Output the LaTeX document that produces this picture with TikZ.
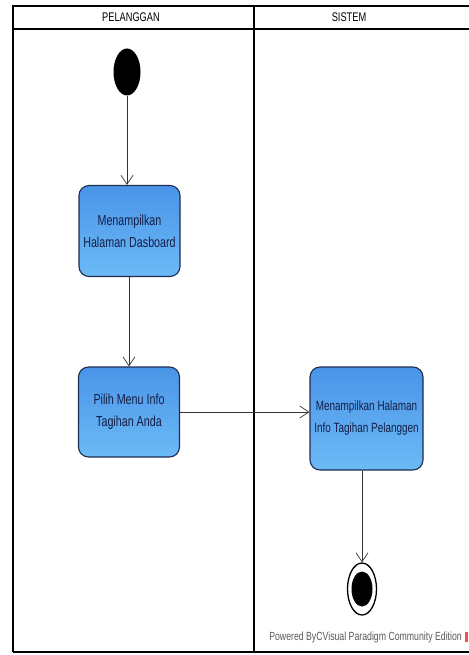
\documentclass[tikz,border=0pt]{standalone}
\usepackage{fontspec}
\setmainfont{Liberation Sans}
\newfontfamily\narrowfont[FakeStretch=0.74]{Liberation Sans}
\usetikzlibrary{arrows.meta,shapes.geometric}
\definecolor{actTop}{RGB}{74,148,232}
\definecolor{actBot}{RGB}{108,186,246}
\definecolor{actLine}{RGB}{30,45,80}
\definecolor{actText}{RGB}{20,30,70}
\tikzset{
  lane/.style={draw=black, line width=1.4pt},
  action/.style={draw=actLine, line width=1.1pt, rounded corners=10pt,
    top color=actTop, bottom color=actBot, minimum width=101pt,
    align=center, font=\narrowfont\fontsize{14.5}{22}\selectfont, text=actText,
    inner sep=0pt},
  flow/.style={draw=black!80, line width=0.7pt,
    -{Straight Barb[length=9pt,width=12pt,line width=0.7pt]}},
  lanetitle/.style={font=\narrowfont\fontsize{12.5}{12.5}\selectfont},
}
\begin{document}
\begin{tikzpicture}[x=1pt,y=-1pt]
\useasboundingbox (0,0) rectangle (468,655);
\fill[white] (0,0) rectangle (468,655);
% swimlane frame
\draw[lane] (13,652) -- (13,6) -- (472,6);
\draw[lane] (13,29) -- (472,29);
\draw[lane] (13,652) -- (472,652);
\draw[lane] (254,6) -- (254,652);
\node[lanetitle] (laneA) at (131,17.5) {PELANGGAN};
\node[lanetitle] (laneB) at (349,17.5) {SISTEM};
% initial node
\node[draw=none, fill=black, ellipse, minimum width=27pt, minimum height=47pt, inner sep=0pt] (start) at (127,72) {};
% actions
\node[action, minimum height=91pt] (dash) at (129.5,231) {Menampilkan\\Halaman Dasboard};
\node[action, minimum height=90pt] (menu) at (129,412) {Pilih Menu Info\\Tagihan Anda};
\node[action, minimum width=113pt, minimum height=103pt, font=\narrowfont\fontsize{13.4}{22}\selectfont] (info) at (366.5,418.5) {Menampilkan Halaman\\Info Tagihan Pelanggen};
% final node
\node[draw=black, line width=1.3pt, fill=white, ellipse, minimum width=29pt, minimum height=52pt, inner sep=0pt] (final) at (362,589) {};
\node[fill=black, ellipse, minimum width=21pt, minimum height=35pt, inner sep=0pt] (finalIn) at (final.center) {};
% control flows
\draw[flow] (start.south) -- (start.south |- dash.north);
\draw[flow] (dash.south -| menu.north) -- (menu.north);
\draw[flow] (menu.east) -- (menu.east -| info.west);
\draw[flow] (info.south -| final.north) -- (final.north);
% edition note
\node[font=\narrowfont\fontsize{11.8}{11.8}\selectfont, text=black!65, anchor=east, inner sep=0pt] (note) at (462,637) {Powered By\raisebox{0pt}{C}Visual Paradigm Community Edition};
\fill[red!70] (465,632) rectangle (468,642);
\end{tikzpicture}
\end{document}
